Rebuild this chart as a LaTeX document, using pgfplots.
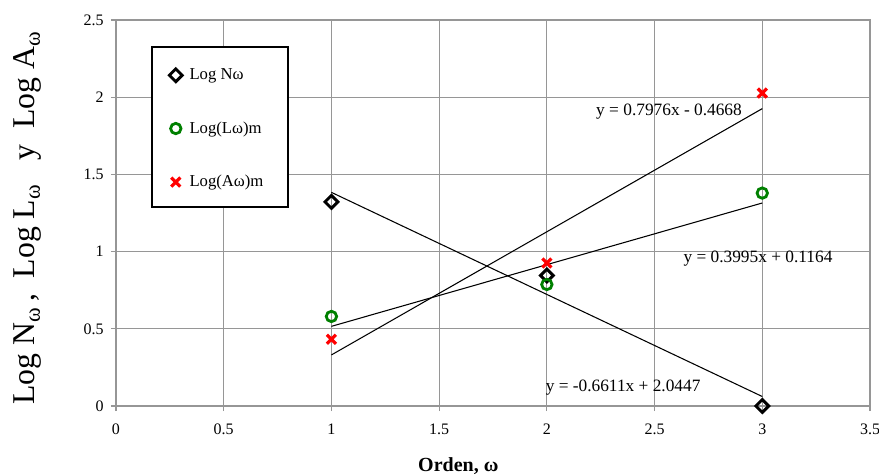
\documentclass[border=0pt]{standalone}
\usepackage{fontspec}
\setmainfont{Liberation Serif}
\usepackage{pgfplots}
\pgfplotsset{compat=1.18}
\definecolor{gridgray}{RGB}{150,150,150}
\definecolor{mkgreen}{RGB}{0,128,0}
\definecolor{mkred}{RGB}{255,0,0}
\begin{document}
\begin{tikzpicture}
\begin{axis}[
  scale only axis, width=565.5pt, height=289.5pt,
  xmin=0, xmax=3.5, ymin=0, ymax=2.5,
  xtick={0,0.5,1,1.5,2,2.5,3,3.5},
  ytick={0,0.5,1,1.5,2,2.5},
  grid=major,
  major grid style={gridgray, line width=0.9pt},
  axis line style={gridgray, line width=0.9pt},
  tick style={gridgray, line width=0.9pt},
  tick align=outside, tick pos=left, major tick length=3.75pt,
  /pgf/number format/assume math mode=true,
  ticklabel style={font=\fontsize{12}{14}\selectfont},
  xticklabel style={yshift=-6pt},
  yticklabel style={xshift=-2pt},
  xlabel={\textbf{Orden, ω}},
  xlabel style={font=\fontsize{15}{18}\selectfont, at={(axis description cs:0.454,-0.155)}, anchor=center},
  ylabel={Log N\textsubscript{ω}\,,\ \ Log L\textsubscript{ω}\ \ \ y\ \ Log A\textsubscript{ω}},
  ylabel style={font=\fontsize{23.8}{28}\selectfont, at={(axis description cs:-0.117,0.487)}, anchor=center, rotate=0},
  legend style={draw=none, fill=none, at={(axis cs:0.228,2.22)}, anchor=north west,
    font=\fontsize{12.5}{14}\selectfont, row sep=26pt, column sep=3.5pt},
  legend cell align=left,
]
\draw[black, line width=0.9pt, fill=white] (axis cs:0.167,2.325) rectangle (axis cs:0.798,1.289);
\addplot[only marks, mark=square, mark options={rotate=45}, mark size=3.4pt, line width=2.2pt, black] coordinates {(1,1.3222) (2,0.8451) (3,0)};
\addlegendentry{Log Nω}
\addplot[only marks, mark=o, mark size=3.9pt, line width=2.1pt, mkgreen] coordinates {(1,0.580) (2,0.787) (3,1.379)};
\addlegendentry{Log(Lω)m}
\addplot[only marks, mark=x, mark size=4.8pt, line width=2.4pt, mkred] coordinates {(1,0.432) (2,0.926) (3,2.027)};
\addlegendentry{Log(Aω)m}
\addplot[black, line width=0.8pt, forget plot] coordinates {(1,1.3836) (3,0.0614)};
\addplot[black, line width=0.8pt, forget plot] coordinates {(1,0.5159) (3,1.3149)};
\addplot[black, line width=0.8pt, forget plot] coordinates {(1,0.3308) (3,1.9260)};
\node[font=\fontsize{13}{15}\selectfont] at (axis cs:2.567,1.904) {y = 0.7976x - 0.4668};
\node[font=\fontsize{13}{15}\selectfont] at (axis cs:2.980,0.952) {y = 0.3995x + 0.1164};
\node[font=\fontsize{13}{15}\selectfont] at (axis cs:2.354,0.117) {y = -0.6611x + 2.0447};
\end{axis}
\pgfresetboundingbox
\path (-87pt,-51.75pt) rectangle (572.25pt,304.5pt);
\end{tikzpicture}
\end{document}
